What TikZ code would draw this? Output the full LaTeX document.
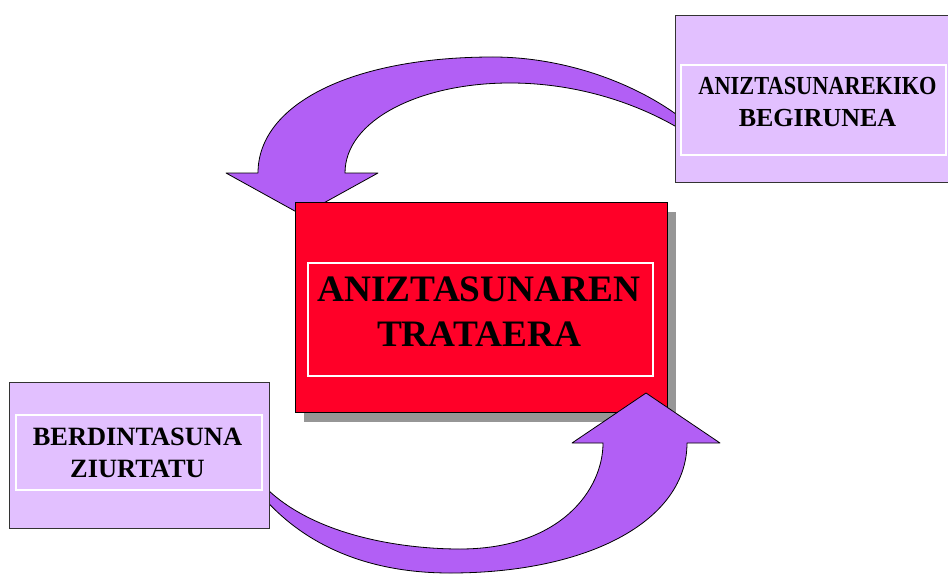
\documentclass[tikz,border=0pt]{standalone}
\usepackage{fontspec}
\setmainfont{Liberation Serif}
\usepackage{graphicx}
\usetikzlibrary{shadows}

\definecolor{gorria}{RGB}{255,0,40}
\definecolor{morea}{RGB}{178,95,245}
\definecolor{morearga}{RGB}{226,192,255}
\definecolor{itzala}{RGB}{150,150,150}

\tikzset{
	gezia/.style={fill=morea, draw=black, line width=0.6pt, line join=round},
	kanpokutxa/.style={draw=black!80, line width=0.6pt, fill=morearga, inner sep=0pt},
	barnemarkoa/.style={draw=white, line width=1.4pt, inner sep=0pt},
	testua/.style={align=center, inner sep=0pt}
}

\begin{document}
\begin{tikzpicture}[x=0.75pt,y=-0.75pt]
		\useasboundingbox (0,0) rectangle (948,574);
		% goiko gezia
		\path[gezia] (680,117) .. controls (630,80) and (560,57) .. (493,57)
			.. controls (352,57) and (258,104) .. (258,173)
			-- (226,173) -- (302,215) -- (378,173) -- (345,173)
			.. controls (345,120) and (420,83) .. (510,83)
			.. controls (580,83) and (640,105) .. (680,129)
			-- cycle;
		% erdiko kutxa
		\node (trataera) [draw=black, line width=0.6pt, fill=gorria, minimum width=279pt, minimum height=157.5pt, inner sep=0pt,
			drop shadow={shadow xshift=6.75pt, shadow yshift=-7.5pt, fill=itzala, opacity=1}] at (481,307) {};
		\node (trataeramarkoa) [barnemarkoa, minimum width=258.75pt, minimum height=84.75pt] at (480.5,319.5) {};
		\node (trataeratestua) [testua, font=\bfseries\fontsize{28}{33.75}\selectfont] at (479,312) {ANIZTASUNAREN\\TRATAERA};
		% beheko gezia
		\path[gezia] (262,484) .. controls (310,535) and (400,549) .. (460,549)
			.. controls (560,549) and (603,490) .. (603,443)
			-- (572,443) -- (646,393) -- (720,443) -- (687,443)
			.. controls (687,520) and (590,573) .. (450,573)
			.. controls (360,573) and (300,540) .. (262,496)
			-- cycle;
		% alboko kutxak
		\node (begirunea) [kanpokutxa, minimum width=207.75pt, minimum height=125.25pt] at (813.5,98.5) {};
		\node (begiruneamarkoa) [barnemarkoa, minimum width=198.75pt, minimum height=67.5pt] at (813.5,110) {};
		\node (begiruneatestua) [testua, font=\bfseries\fontsize{19.5}{24}\selectfont] at (817.5,102.5) {\scalebox{0.86}[1]{ANIZTASUNAREKIKO}\\BEGIRUNEA};
		\node (berdintasuna) [kanpokutxa, minimum width=195pt, minimum height=109.5pt] at (139,455) {};
		\node (berdintasunamarkoa) [barnemarkoa, minimum width=184.5pt, minimum height=56.25pt] at (139,452.5) {};
		\node (berdintasunatestua) [testua, font=\bfseries\fontsize{19.8}{24}\selectfont] at (137.5,452.5) {BERDINTASUNA\\ZIURTATU};
\end{tikzpicture}
\end{document}
